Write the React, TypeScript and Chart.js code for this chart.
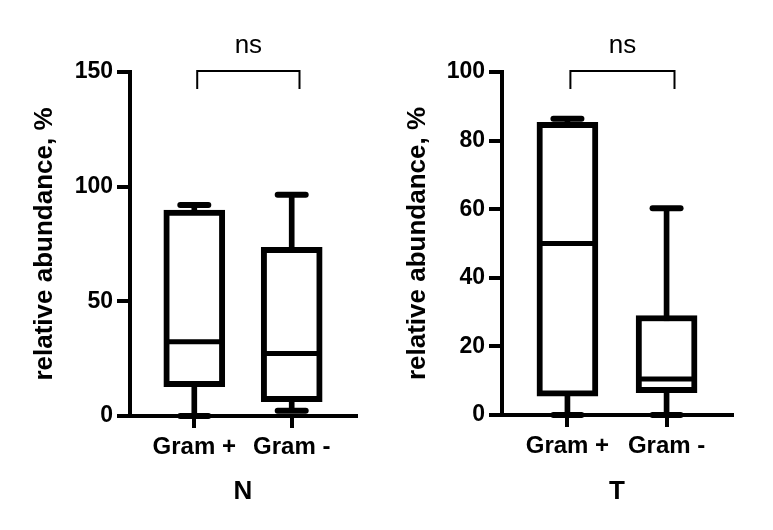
import React, { useEffect, useRef } from "react";
import { Chart, registerables } from "chart.js";

Chart.register(...registerables);

// ---- data ----
const categories = ["Gram +", "Gram -"];
const panelTitles = ["N", "T"];
const significance = ["ns", "ns"];

const nMin = [0, 2.3];
const nQ1 = [12.8, 6.2];
const nMedian = [32.4, 27.2];
const nQ3 = [89.8, 73.5];
const nMax = [92, 96.5];

const tMin = [0, 0];
const tQ1 = [5.5, 6.5];
const tMedian = [50, 10.5];
const tQ3 = [85.3, 29];
const tMax = [86.4, 60.3];

const nTicks = [0, 50, 100, 150];
const tTicks = [0, 20, 40, 60, 80, 100];

const FONT = "'Liberation Sans', Arial, sans-serif";

type PanelProps = {
  left: number;
  width: number;
  min: number[];
  q1: number[];
  median: number[];
  q3: number[];
  max: number[];
  yTicks: number[];
  title: string;
  sig: string;
  yAxisWidth: number;
  yTitlePad: number;
  padRight: number;
  xAxisHeight: number;
};

function Panel(p: PanelProps) {
  const ref = useRef<HTMLCanvasElement | null>(null);
  useEffect(() => {
    if (!ref.current) return;
    const xs = categories.map((_, i) => i + 1);
    const capPoints: { x: number; y: number }[] = [];
    xs.forEach((x, i) => {
      capPoints.push({ x, y: p.max[i] });
      capPoints.push({ x, y: p.min[i] });
    });

    const roundCaps = {
      id: "roundCaps",
      beforeDatasetsDraw(chart: any) {
        chart.ctx.save();
        chart.ctx.lineCap = "round";
      },
      afterDatasetsDraw(chart: any) {
        chart.ctx.restore();
      },
    };

    const bracket = {
      id: "bracket",
      afterDraw(chart: any) {
        const ctx = chart.ctx;
        const x = chart.scales.x;
        const top = chart.chartArea.top;
        const x1 = x.getPixelForValue(1.03);
        const x2 = x.getPixelForValue(2.08);
        ctx.save();
        ctx.strokeStyle = "#000";
        ctx.lineWidth = 2;
        ctx.lineCap = "butt";
        ctx.beginPath();
        ctx.moveTo(x1, top + 17);
        ctx.lineTo(x1, top - 1);
        ctx.lineTo(x2, top - 1);
        ctx.lineTo(x2, top + 17);
        ctx.stroke();
        ctx.fillStyle = "#000";
        ctx.font = `26px ${FONT}`;
        ctx.textAlign = "center";
        ctx.textBaseline = "alphabetic";
        ctx.fillText(p.sig, (x1 + x2) / 2, top - 19);
        ctx.restore();
      },
    };

    const chart = new Chart(ref.current, {
      type: "bar",
      data: {
        datasets: [
          {
            type: "bar",
            data: xs.map((x, i) => ({ x, y: [p.min[i], p.max[i]] })),
            backgroundColor: "#000",
            borderWidth: 0,
            barThickness: 5,
            grouped: false,
            order: 3,
            clip: false,
          } as any,
          {
            type: "bar",
            data: xs.map((x, i) => ({ x, y: [p.q1[i], p.q3[i]] })),
            backgroundColor: "#fff",
            borderColor: "#000",
            borderWidth: 6,
            borderSkipped: false,
            barThickness: 61,
            grouped: false,
            order: 2,
            clip: false,
          } as any,
          {
            type: "scatter",
            data: xs.map((x, i) => ({ x, y: p.median[i] })),
            pointStyle: "line",
            pointRadius: 25,
            borderWidth: 5,
            borderColor: "#000",
            backgroundColor: "#000",
            order: 1,
            clip: false,
          } as any,
          {
            type: "scatter",
            data: capPoints,
            pointStyle: "line",
            pointRadius: 14,
            borderWidth: 6,
            borderColor: "#000",
            backgroundColor: "#000",
            order: 0,
            clip: false,
          } as any,
        ],
      },
      options: {
        responsive: false,
        animation: false,
        events: [],
        layout: { padding: { top: 72, right: p.padRight, bottom: 0, left: 0 } },
        plugins: { legend: { display: false }, tooltip: { enabled: false } },
        scales: {
          x: {
            type: "linear",
            offset: false,
            min: 0.34,
            max: 2.66,
            afterBuildTicks(scale: any) {
              scale.ticks = xs.map((v) => ({ value: v }));
            },
            afterFit(scale: any) {
              scale.height = p.xAxisHeight;
            },
            ticks: {
              autoSkip: false,
              color: "#000",
              padding: 5,
              font: { family: FONT, size: 24, weight: "bold" },
              callback: (v: any) => categories[Number(v) - 1] ?? "",
            },
            grid: {
              display: true,
              offset: false,
              drawOnChartArea: false,
              drawTicks: true,
              tickLength: 12,
              lineWidth: 4,
              color: "#000",
            },
            border: { display: true, width: 4, color: "#000" },
            title: {
              display: true,
              text: p.title,
              color: "#000",
              font: { family: FONT, size: 26, weight: "bold", lineHeight: 1 },
              padding: { top: 0, bottom: 25 },
            },
          },
          y: {
            type: "linear",
            min: p.yTicks[0],
            max: p.yTicks[p.yTicks.length - 1],
            afterBuildTicks(scale: any) {
              scale.ticks = p.yTicks.map((v) => ({ value: v }));
            },
            afterFit(scale: any) {
              scale.width = p.yAxisWidth;
            },
            ticks: {
              color: "#000",
              padding: 4,
              font: { family: FONT, size: 23, weight: "bold" },
            },
            grid: {
              display: true,
              drawOnChartArea: false,
              drawTicks: true,
              tickLength: 13,
              lineWidth: 4,
              color: "#000",
            },
            border: { display: true, width: 4, color: "#000" },
            title: {
              display: true,
              text: "relative abundance, %",
              color: "#000",
              font: { family: FONT, size: 26, weight: "bold", lineHeight: 1 },
              padding: { top: p.yTitlePad, bottom: 0 },
            },
          },
        },
      } as any,
      plugins: [roundCaps, bracket],
    });
    return () => chart.destroy();
  }, []);

  return (
    <canvas
      ref={ref}
      width={p.width}
      height={530}
      style={{ position: "absolute", left: p.left, top: 0, width: p.width, height: 530 }}
    />
  );
}

export default function App() {
  return (
    <div
      style={{
        position: "absolute",
        left: 0,
        top: 0,
        width: 773,
        height: 530,
        background: "#fff",
        overflow: "hidden",
      }}
    >
      <Panel
        left={0}
        width={386}
        min={nMin}
        q1={nQ1}
        median={nMedian}
        q3={nQ3}
        max={nMax}
        yTicks={nTicks}
        title={panelTitles[0]}
        sig={significance[0]}
        yAxisWidth={130}
        yTitlePad={32}
        padRight={26}
        xAxisHeight={114}
      />
      <Panel
        left={386}
        width={387}
        min={tMin}
        q1={tQ1}
        median={tMedian}
        q3={tQ3}
        max={tMax}
        yTicks={tTicks}
        title={panelTitles[1]}
        sig={significance[1]}
        yAxisWidth={116}
        yTitlePad={19}
        padRight={41}
        xAxisHeight={115}
      />
    </div>
  );
}
